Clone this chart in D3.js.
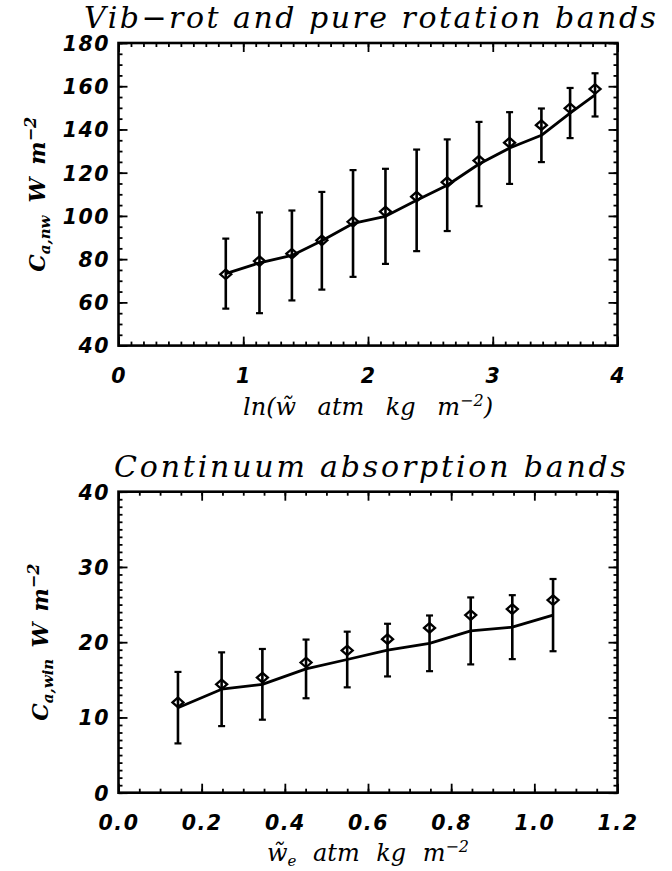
<!DOCTYPE html>
<html>
<head>
<meta charset="utf-8">
<script src="https://cdn.jsdelivr.net/npm/d3@7"></script>
<style>
  html, body { margin: 0; padding: 0; background: #fff; }
  svg { display: block; }
  .tick text { font-family: "DejaVu Sans", sans-serif; font-weight: bold; font-style: italic; font-size: 20.5px; fill: #000; letter-spacing: 1.5px; }
  .serif { font-family: "DejaVu Serif", serif; font-style: italic; fill: #000; }
</style>
</head>
<body>
<script>
// Upper panel: vib-rot and pure rotation bands, binned in ln(w)
const topX      = [0.86, 1.13, 1.39, 1.63, 1.88, 2.14, 2.39, 2.635, 2.89, 3.135, 3.39, 3.62, 3.82];
const topMean   = [73.3, 78.3, 81.7, 88.5, 96.5, 99.8, 107.2, 114.2, 124.0, 131.4, 137.3, 147.6, 156.0];
const topSd     = [16.2, 23.3, 20.8, 22.6, 24.7, 22.0, 23.5, 21.2, 19.5, 16.6, 12.4, 11.6, 10.0];
const topMedian = [73.0, 79.1, 82.5, 88.7, 97.3, 102.0, 108.9, 115.6, 125.6, 133.9, 142.0, 149.8, 158.7];
const topXTicks = [0, 1, 2, 3, 4];
const topYTicks = [40, 60, 80, 100, 120, 140, 160, 180];

// Lower panel: continuum absorption bands, binned in w_e
const botX      = [0.143, 0.248, 0.346, 0.451, 0.550, 0.647, 0.748, 0.847, 0.947, 1.045];
const botMean   = [11.3, 13.75, 14.4, 16.45, 17.7, 18.95, 19.85, 21.5, 22.0, 23.6];
const botSd     = [4.75, 4.9, 4.7, 3.9, 3.7, 3.5, 3.7, 4.45, 4.25, 4.8];
const botMedian = [12.0, 14.4, 15.3, 17.3, 18.9, 20.4, 21.9, 23.6, 24.4, 25.6];
const botXTicks = [0.0, 0.2, 0.4, 0.6, 0.8, 1.0, 1.2];
const botYTicks = [0, 10, 20, 30, 40];

const W = 672, H = 871;
const svg = d3.select("body").append("svg").attr("width", W).attr("height", H);

function panel(cfg) {
  const x = d3.scaleLinear().domain(cfg.xDomain).range([cfg.left, cfg.right]);
  const y = d3.scaleLinear().domain(cfg.yDomain).range([cfg.bottom, cfg.top]);
  const g = svg.append("g");

  const minorX = d3.range(cfg.xDomain[0], cfg.xDomain[1] + 1e-9, cfg.xMinor);
  const minorY = d3.range(cfg.yDomain[0], cfg.yDomain[1] + 1e-9, cfg.yMinor);

  const addAxis = (axis, tr) => {
    const a = g.append("g").attr("transform", tr).call(axis);
    a.select(".domain").remove();
    a.selectAll(".tick line").attr("stroke", "#000").attr("stroke-width", 1.8);
    return a;
  };
  // minor ticks on all four sides, pointing inward
  addAxis(d3.axisBottom(x).tickValues(minorX).tickSize(-4).tickFormat(""), `translate(0,${cfg.bottom})`);
  addAxis(d3.axisTop(x).tickValues(minorX).tickSize(-4).tickFormat(""), `translate(0,${cfg.top})`);
  addAxis(d3.axisLeft(y).tickValues(minorY).tickSize(-4).tickFormat(""), `translate(${cfg.left},0)`);
  addAxis(d3.axisRight(y).tickValues(minorY).tickSize(-4).tickFormat(""), `translate(${cfg.right},0)`);
  // major ticks with labels
  addAxis(d3.axisBottom(x).tickValues(cfg.xTicks).tickSize(-9).tickPadding(37).tickFormat(cfg.xFmt), `translate(0,${cfg.bottom})`)
    .selectAll(".tick text").attr("dy", "0");
  addAxis(d3.axisTop(x).tickValues(cfg.xTicks).tickSize(-9).tickFormat(""), `translate(0,${cfg.top})`);
  addAxis(d3.axisLeft(y).tickValues(cfg.yTicks).tickSize(-9).tickPadding(10).tickFormat(cfg.yFmt), `translate(${cfg.left},0)`)
    .selectAll(".tick text").attr("dy", "0.36em").attr("dx", "1.5px");
  addAxis(d3.axisRight(y).tickValues(cfg.yTicks).tickSize(-9).tickFormat(""), `translate(${cfg.right},0)`);

  // frame
  g.append("rect")
    .attr("x", cfg.left).attr("y", cfg.top)
    .attr("width", cfg.right - cfg.left).attr("height", cfg.bottom - cfg.top)
    .attr("fill", "none").attr("stroke", "#000").attr("stroke-width", 2.6);

  const pts = cfg.xs.map((v, i) => ({ x: v, m: cfg.mean[i], s: cfg.sd[i], med: cfg.median[i] }));

  // error bars: mean ± one standard deviation
  const eb = g.append("g").attr("stroke", "#000").attr("fill", "none");
  pts.forEach(d => {
    const cx = x(d.x), y0 = y(d.m - d.s), y1 = y(d.m + d.s);
    eb.append("line").attr("x1", cx).attr("x2", cx).attr("y1", y0).attr("y2", y1).attr("stroke-width", 2.6);
    eb.append("line").attr("x1", cx - 3.5).attr("x2", cx + 3.5).attr("y1", y0).attr("y2", y0).attr("stroke-width", 2.2);
    eb.append("line").attr("x1", cx - 3.5).attr("x2", cx + 3.5).attr("y1", y1).attr("y2", y1).attr("stroke-width", 2.2);
  });

  // mean curve
  g.append("path").datum(pts)
    .attr("d", d3.line().x(d => x(d.x)).y(d => y(d.m)))
    .attr("fill", "none").attr("stroke", "#000").attr("stroke-width", 2.8).attr("stroke-linejoin", "round");

  // medians as open diamonds
  g.append("g").selectAll("path").data(pts).join("path")
    .attr("d", d => { const cx = x(d.x), cy = y(d.med); return `M${cx - 5.5},${cy}L${cx},${cy - 4.8}L${cx + 5.5},${cy}L${cx},${cy + 4.8}Z`; })
    .attr("fill", "none").attr("stroke", "#000").attr("stroke-width", 2.3);

  // title
  svg.append("text").attr("class", "serif")
    .attr("x", (cfg.left + cfg.right) / 2 + cfg.titleDx).attr("y", cfg.top - 15)
    .attr("text-anchor", "middle").attr("font-size", 30)
    .attr("textLength", cfg.titleLen).attr("lengthAdjust", "spacing")
    .text(cfg.title);

  // axis labels
  const fitSpaces = (sel, target) => {
    const w = sel.node().getBBox().width;
    const n = (sel.text().match(/ /g) || []).length;
    if (n > 0) sel.attr("word-spacing", (target - w) / n);
  };
  const xl = svg.append("text").attr("class", "serif").attr("font-size", 24)
    .attr("x", (cfg.left + cfg.right) / 2).attr("y", cfg.bottom + cfg.xLabelDy).attr("text-anchor", "middle");
  cfg.xLabel(xl);
  fitSpaces(xl, cfg.xLabelLen);

  const yl = svg.append("text").attr("class", "serif").attr("font-size", 22).attr("font-weight", "bold")
    .attr("transform", `translate(${cfg.yLabelX},${(cfg.top + cfg.bottom) / 2}) rotate(-90)`)
    .attr("text-anchor", "middle");
  cfg.yLabel(yl);
  fitSpaces(yl, cfg.yLabelLen);
}

const sup = (sel, s) => sel.append("tspan").attr("font-size", 16).attr("dy", -9).text(s);
const sub = (sel, s) => sel.append("tspan").attr("font-size", 15).attr("dy", 5).text(s);

panel({
  left: 118.5, right: 617.5, top: 43, bottom: 345.6,
  xDomain: [0, 4], yDomain: [40, 180], xMinor: 0.1, yMinor: 5,
  xTicks: topXTicks, yTicks: topYTicks,
  xFmt: d3.format("d"), yFmt: d3.format("d"),
  xs: topX, mean: topMean, sd: topSd, median: topMedian,
  title: "Vib\u2212rot and pure rotation bands", titleLen: 572, titleDx: 2,
  xLabelDy: 69, xLabelLen: 250,
  xLabel: s => { s.append("tspan").text("ln(w\u0303 atm kg m"); sup(s, "\u22122"); s.append("tspan").attr("dy", 9).text(")"); },
  yLabelX: 45, yLabelLen: 155,
  yLabel: s => { s.append("tspan").text("C"); sub(s, "a,nw"); s.append("tspan").attr("dy", -5).text(" W m"); sup(s, "\u22122"); }
});

panel({
  left: 118.5, right: 617.5, top: 491.7, bottom: 792.7,
  xDomain: [0, 1.2], yDomain: [0, 40], xMinor: 0.05, yMinor: 1,
  xTicks: botXTicks, yTicks: botYTicks,
  xFmt: d3.format(".1f"), yFmt: d3.format("d"),
  xs: botX, mean: botMean, sd: botSd, median: botMedian,
  title: "Continuum absorption bands", titleLen: 512, titleDx: 2,
  xLabelDy: 68, xLabelLen: 202,
  xLabel: s => { s.append("tspan").text("w\u0303"); sub(s, "e"); s.append("tspan").attr("dy", -5).text(" atm kg m"); sup(s, "\u22122"); },
  yLabelX: 48, yLabelLen: 157,
  yLabel: s => { s.append("tspan").text("C"); sub(s, "a,win"); s.append("tspan").attr("dy", -5).text(" W m"); sup(s, "\u22122"); }
});
</script>
</body>
</html>
